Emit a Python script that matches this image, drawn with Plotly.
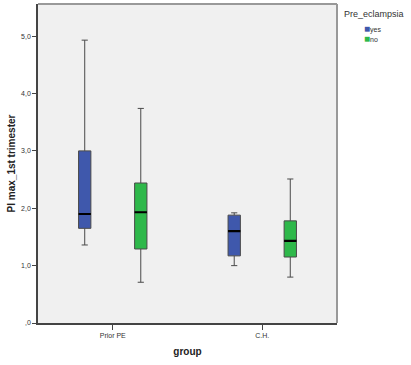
import plotly.graph_objects as go

groups = ["Prior PE", "C.H."]
series = ["yes", "no"]
colors = {"yes": "#3F58AC", "no": "#2EB84A"}

q1 = {"yes": [1.65, 1.17], "no": [1.29, 1.15]}
median = {"yes": [1.90, 1.60], "no": [1.93, 1.43]}
q3 = {"yes": [3.00, 1.88], "no": [2.44, 1.78]}
lower = {"yes": [1.36, 1.00], "no": [0.71, 0.80]}
upper = {"yes": [4.93, 1.92], "no": [3.74, 2.51]}

ytickvals = [0, 1, 2, 3, 4, 5]
yticktext = [",0", "1,0", "2,0", "3,0", "4,0", "5,0"]
legend_title = "Pre_eclampsia"

fig = go.Figure()
for s in series:
    fig.add_trace(go.Box(
        x=groups, q1=q1[s], median=median[s], q3=q3[s],
        lowerfence=lower[s], upperfence=upper[s],
        name=s, offsetgroup=s, fillcolor=colors[s],
        line=dict(color="#4a4a4a", width=1), whiskerwidth=0.5,
        boxpoints=False, hoverinfo="skip", showlegend=False,
    ))
for s in series:
    fig.add_trace(go.Box(
        x=groups, q1=median[s], median=median[s], q3=median[s],
        lowerfence=median[s], upperfence=median[s],
        name=s, offsetgroup=s, fillcolor="rgba(0,0,0,0)",
        line=dict(color="#000000", width=2.2), whiskerwidth=0,
        boxpoints=False, showlegend=False, hoverinfo="skip",
    ))

annotations = [
    dict(text=legend_title, xref="paper", yref="paper", x=1.017, y=0.969,
         xanchor="left", yanchor="middle", showarrow=False,
         font=dict(size=9, color="#333")),
]
for i, s in enumerate(series):
    annotations.append(dict(
        text=f'<span style="color:{colors[s]};font-size:10px">■</span>{s}',
        xref="paper", yref="paper", x=1.082, y=0.923 - i * 0.031,
        xanchor="left", yanchor="middle", showarrow=False, align="left",
        font=dict(size=7, color="#333"),
    ))

fig.update_layout(
    width=411, height=365,
    margin=dict(l=38, r=74, t=4, b=42, autoexpand=False),
    boxmode="group", boxgap=0.25, boxgroupgap=0.78,
    plot_bgcolor="#F0F0F0", paper_bgcolor="white",
    font=dict(family="Liberation Sans, Arial, sans-serif", size=8, color="#333"),
    showlegend=False,
    annotations=annotations,
)
fig.update_xaxes(
    title=dict(text="<b>group</b>", font=dict(size=10, color="#222"), standoff=10),
    automargin=False,
    showline=True, linecolor="#444", linewidth=1.5, mirror=False,
    ticks="outside", ticklen=5, tickcolor="#444", showgrid=False,
    tickfont=dict(size=7, color="#333"),
)
fig.update_yaxes(
    title=dict(text="<b>PI max_1st trimester</b>", font=dict(size=10, color="#222"), standoff=4),
    automargin=False,
    range=[0, 5.56], tickvals=ytickvals, ticktext=yticktext,
    showline=True, linecolor="#444", linewidth=1.5,
    ticks="outside", ticklen=4, tickcolor="#444", showgrid=False, zeroline=False,
    tickfont=dict(size=7, color="#333"),
)
fig.add_shape(type="line", xref="paper", yref="paper", x0=0, x1=1, y0=1, y1=1,
              line=dict(color="#999", width=2))
fig.add_shape(type="line", xref="paper", yref="paper", x0=1, x1=1, y0=0, y1=1,
              line=dict(color="#999", width=2))

fig.write_html("out.html", config={"displayModeBar": False},
               post_script="document.body.style.margin='0';")
